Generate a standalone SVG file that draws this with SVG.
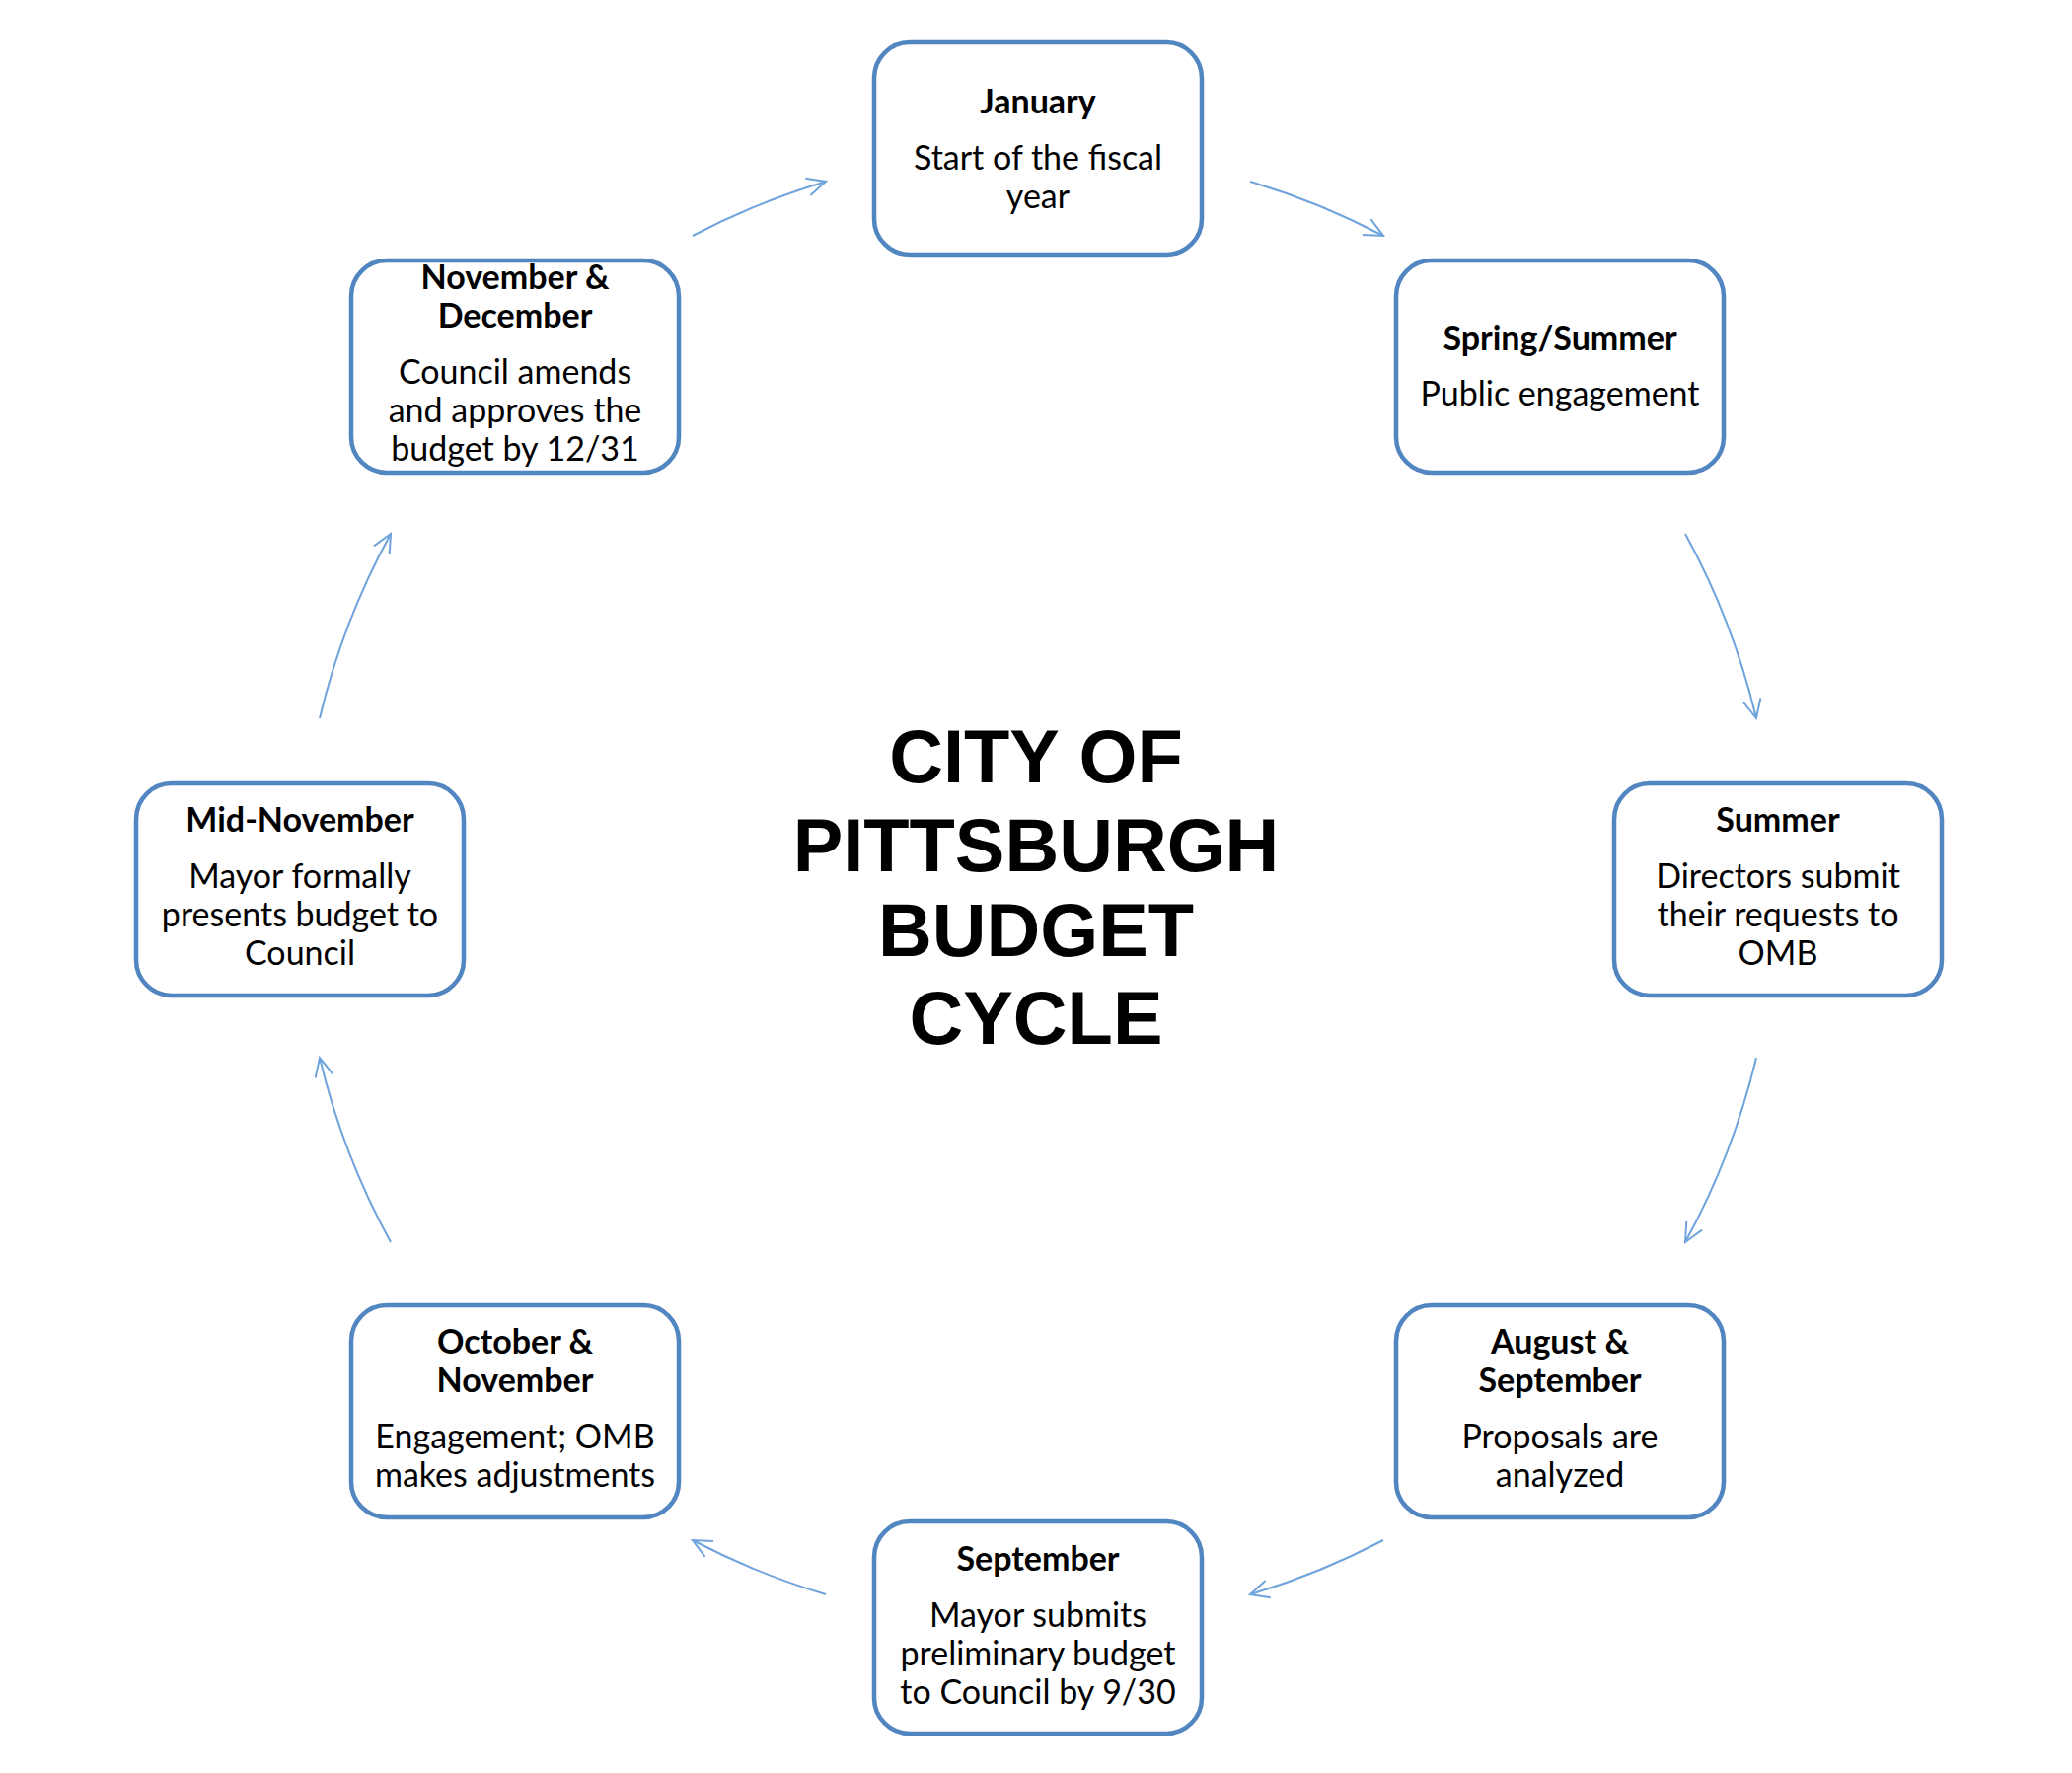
<svg xmlns="http://www.w3.org/2000/svg" width="2100" height="1797" viewBox="0 0 2100 1797">
<style>
.box{fill:#ffffff;stroke:#5186c0;stroke-width:4.5}
.t{font-family:Lato,"Liberation Sans",sans-serif;font-size:34px;font-weight:bold;fill:#000;text-anchor:middle}
.b{font-family:Lato,"Liberation Sans",sans-serif;font-size:34px;fill:#000;text-anchor:middle}
.title{font-family:"Liberation Sans",Arial,sans-serif;font-size:75.8px;font-weight:bold;fill:#000;text-anchor:middle}
.arc{fill:none;stroke:#6fa3dc;stroke-width:2}
</style>
<defs>
<marker id="ah" markerUnits="userSpaceOnUse" viewBox="0 0 22 22" markerWidth="22" markerHeight="22" refX="20" refY="11" orient="auto">
<path d="M1,2 L20,11 L1,20" fill="none" stroke="#6fa3dc" stroke-width="2"/>
</marker>
</defs>
<rect width="2100" height="1797" fill="#ffffff"/>
<g id="connectors">
<path class="arc" marker-end="url(#ah)" d="M1267,184 A748,748 0 0 1 1402,239"/>
<path class="arc" marker-end="url(#ah)" d="M1708,541 A748,748 0 0 1 1780,728"/>
<path class="arc" marker-end="url(#ah)" d="M1780,1072 A748,748 0 0 1 1708,1259"/>
<path class="arc" marker-end="url(#ah)" d="M1402,1561 A748,748 0 0 1 1267,1616"/>
<path class="arc" marker-end="url(#ah)" d="M837,1616 A748,748 0 0 1 702,1561"/>
<path class="arc" marker-end="url(#ah)" d="M396,1259 A748,748 0 0 1 324,1072"/>
<path class="arc" marker-end="url(#ah)" d="M324,728 A748,748 0 0 1 396,541"/>
<path class="arc" marker-end="url(#ah)" d="M702,239 A748,748 0 0 1 837,184"/>
</g>
<g id="center-title">
<text class="title" x="1050" y="793">CITY OF</text>
<text class="title" x="1050" y="883">PITTSBURGH</text>
<text class="title" x="1050" y="969">BUDGET</text>
<text class="title" x="1050" y="1058">CYCLE</text>
</g>
<g id="january">
<rect class="box" x="886" y="43" width="332" height="215" rx="36"/>
<text class="t" x="1052" y="115">January</text>
<text class="b" x="1052" y="172">Start of the fiscal</text>
<text class="b" x="1052" y="211">year</text>
</g>
<g id="spring-summer">
<rect class="box" x="1415" y="264" width="332" height="215" rx="36"/>
<text class="t" x="1581" y="355">Spring/Summer</text>
<text class="b" x="1581" y="411">Public engagement</text>
</g>
<g id="summer">
<rect class="box" x="1636" y="794" width="332" height="215" rx="36"/>
<text class="t" x="1802" y="843">Summer</text>
<text class="b" x="1802" y="900">Directors submit</text>
<text class="b" x="1802" y="939">their requests to</text>
<text class="b" x="1802" y="978">OMB</text>
</g>
<g id="august-september">
<rect class="box" x="1415" y="1323" width="332" height="215" rx="36"/>
<text class="t" x="1581" y="1372">August &amp;</text>
<text class="t" x="1581" y="1411">September</text>
<text class="b" x="1581" y="1468">Proposals are</text>
<text class="b" x="1581" y="1507">analyzed</text>
</g>
<g id="september">
<rect class="box" x="886" y="1542" width="332" height="215" rx="36"/>
<text class="t" x="1052" y="1592">September</text>
<text class="b" x="1052" y="1649">Mayor submits</text>
<text class="b" x="1052" y="1688">preliminary budget</text>
<text class="b" x="1052" y="1727">to Council by 9/30</text>
</g>
<g id="october-november">
<rect class="box" x="356" y="1323" width="332" height="215" rx="36"/>
<text class="t" x="522" y="1372">October &amp;</text>
<text class="t" x="522" y="1411">November</text>
<text class="b" x="522" y="1468">Engagement; OMB</text>
<text class="b" x="522" y="1507">makes adjustments</text>
</g>
<g id="mid-november">
<rect class="box" x="138" y="794" width="332" height="215" rx="36"/>
<text class="t" x="304" y="843">Mid-November</text>
<text class="b" x="304" y="900">Mayor formally</text>
<text class="b" x="304" y="939">presents budget to</text>
<text class="b" x="304" y="978">Council</text>
</g>
<g id="november-december">
<rect class="box" x="356" y="264" width="332" height="215" rx="36"/>
<text class="t" x="522" y="293">November &amp;</text>
<text class="t" x="522" y="332">December</text>
<text class="b" x="522" y="389">Council amends</text>
<text class="b" x="522" y="428">and approves the</text>
<text class="b" x="522" y="467">budget by 12/31</text>
</g>
</svg>
